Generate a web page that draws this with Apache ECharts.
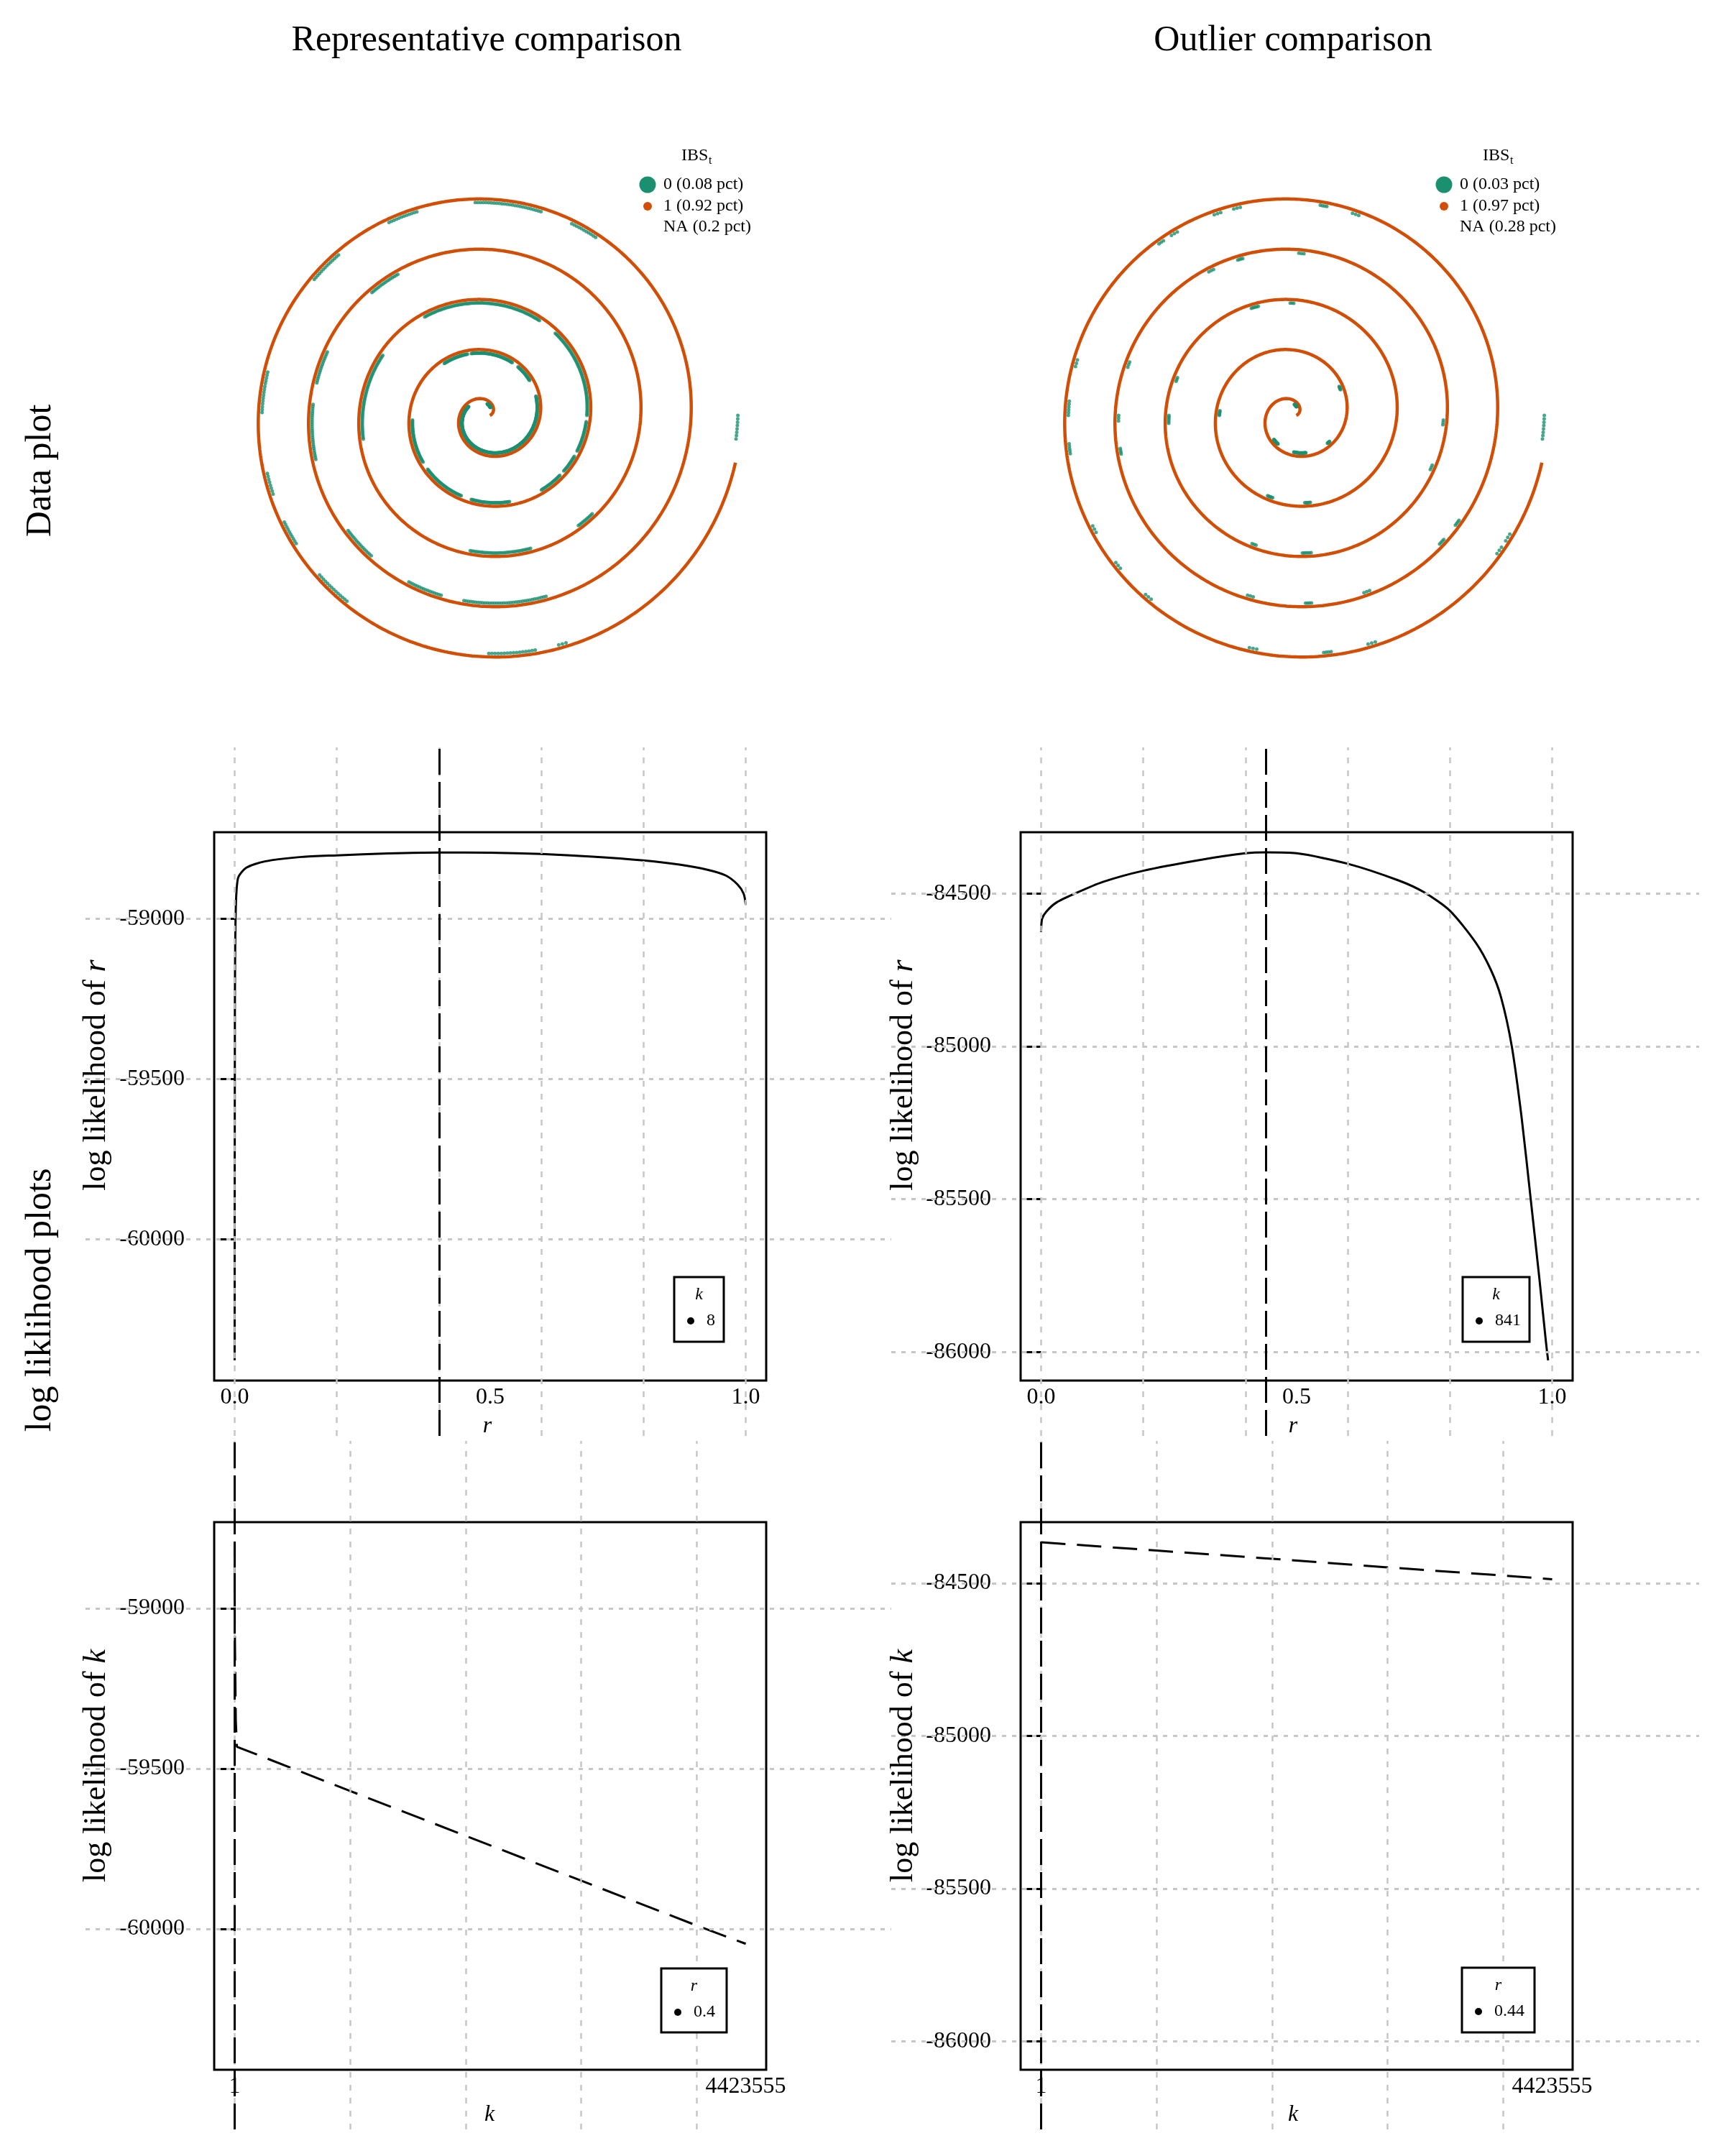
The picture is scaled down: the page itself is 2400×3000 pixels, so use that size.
<!DOCTYPE html>
<html><head><meta charset="utf-8">
<script src="https://cdn.jsdelivr.net/npm/echarts@6/dist/echarts.min.js"></script>
<style>html,body{margin:0;padding:0;background:#fff}#c{width:2400px;height:3000px}</style>
</head><body><div id="c"></div>
<script>
// ------------------------- DATA -------------------------
const columnTitles = ['Representative comparison', 'Outlier comparison'];
const rowTitles = ['Data plot', 'log liklihood plots'];
const ibsTitle = 'IBS';
const ibsLevels = ['0', '1', 'NA'];
const ibsPctRep = ['0.08', '0.92', '0.2'];
const ibsPctOut = ['0.03', '0.97', '0.28'];
// spiral position is measured in turns (genome order along the spiral)
const ibs1ExtentRep = [0, 4.97];
const ibs1ExtentOut = [0, 4.97];
const ibs0RunsRep = [[0.19,0.25],[0.43,1.06],[1.11,1.16],[1.18,1.29],[1.30,1.36],[1.51,1.60],[1.617,1.70],[1.72,1.76],[1.762,1.79],[1.85,1.89],[1.90,1.93],[1.94,1.99],[2.0,2.14],[2.17,2.34],[2.417,2.53],[2.73,2.80],[2.86,2.88],[3.34,3.37],[3.44,3.47],[3.49,3.54],[3.61,3.64],[3.68,3.71],[3.73,3.80],[4.163,4.184],[4.209,4.259],[4.303,4.325],[4.369,4.394],[4.469,4.498],[4.541,4.556],[4.577,4.594],[4.621,4.647],[4.751,4.782],[4.798,4.803],[4.985,5.0]];
const ibs0RunsOut = [[0.2,0.24],[0.64,0.67],[0.75,0.8],[0.89,0.9],[1.08,1.09],[1.49,1.5],[1.7,1.71],[1.77,1.78],[2.25,2.255],[2.3,2.31],[2.45,2.455],[2.5,2.51],[2.7,2.705],[2.76,2.77],[2.94,2.945],[2.99,2.995],[3.24,3.245],[3.3,3.305],[3.33,3.335],[3.45,3.455],[3.5,3.505],[3.53,3.535],[3.71,3.715],[3.76,3.765],[3.81,3.815],[3.885,3.89],[3.905,3.91],[4.2,4.205],[4.225,4.23],[4.29,4.295],[4.305,4.31],[4.34,4.345],[4.352,4.356],[4.46,4.465],[4.49,4.5],[4.52,4.527],[4.58,4.585],[4.61,4.615],[4.64,4.645],[4.72,4.725],[4.77,4.775],[4.8,4.805],[4.905,4.91],[4.915,4.92],[4.985,5.0]];

const rRep   = [0, 0.0005, 0.002, 0.0065, 0.0225, 0.059, 0.131, 0.2, 0.3, 0.4, 0.5, 0.6, 0.7, 0.8, 0.87, 0.925, 0.961, 0.984, 0.996, 1.0];
const llRRep = [-60377, -59300, -58990, -58875, -58842, -58822, -58808, -58803, -58797, -58794, -58795, -58799, -58807, -58819, -58832, -58848, -58866, -58894, -58923, -58957];
const rOut   = [0, 0.002, 0.01, 0.03, 0.067, 0.12, 0.2, 0.31, 0.4, 0.44, 0.5, 0.6, 0.7, 0.75, 0.8, 0.85, 0.88, 0.9, 0.921, 0.94, 0.958, 0.975, 0.988, 0.992];
const llROut = [-84626, -84583, -84560, -84530, -84500, -84463, -84426, -84391, -84369, -84366, -84369, -84403, -84458, -84497, -84557, -84660, -84750, -84840, -85000, -85230, -85500, -85760, -85970, -86027];

const kMax = 4423555;
const kRep   = [1, 8, 100, 1000, 10000, 20000, 1000000, 2000000, 3000000, 4000000, 4423555];
const llKRep = [-58950, -58794, -58860, -59050, -59350, -59432, -59570, -59710, -59850, -59990, -60047];
const kOut   = [1, 841, 1000000, 2000000, 3000000, 4000000, 4423555];
const llKOut = [-84366, -84365, -84393, -84420, -84448, -84475, -84487];

const rHat = [0.4, 0.44];
const kHat = [8, 841];

const yRanges = [[-60440, -58731], [-86093, -84300]];
const yTickVals = [[-60000, -59500, -59000], [-86000, -85500, -85000, -84500]];
const rGridVals = [0, 0.2, 0.4, 0.6, 0.8, 1.0];
const rLabelVals = [0, 0.5, 1.0];
const kGridVals = [0, 1000000, 2000000, 3000000, 4000000];
const kLabelVals = [1, 4423555];

// ------------------------- LAYOUT -------------------------
const FONT = 'Liberation Serif';
const GREEN = '#1A9070';
const ORANGE = '#D24E05';
const colBoxX = [[298, 1066], [1420, 2188]];
const colCellX = [[119, 1240], [1240, 2364]];
const rowBoxY = [[1158, 1921], [2118, 2880]];
const rowCellY = [[1040, 1998], [2005, 2963]];
const spiralCenters = [[678, 578], [1800, 578]];

const opt = {animation: false, backgroundColor: '#fff', grid: [], xAxis: [], yAxis: [],
  polar: [], angleAxis: [], radiusAxis: [], series: [], graphic: []};

// ---- spirals ----
function trace(t0, t1, off) {
  const pts = []; const n = Math.max(1, Math.round((t1 - t0) / 0.002));
  for (let i = 0; i <= n; i++) { const t = t0 + (t1 - t0) * i / n; pts.push([t + off, (((t % 1) + 1) % 1) * 360]); }
  return pts;
}
[[ibs1ExtentRep, ibs0RunsRep], [ibs1ExtentOut, ibs0RunsOut]].forEach(([ext, runs], c) => {
  opt.polar.push({center: spiralCenters[c], radius: 385});
  opt.angleAxis.push({polarIndex: c, type: 'value', min: 0, max: 360, startAngle: 0, clockwise: false, show: false});
  opt.radiusAxis.push({polarIndex: c, type: 'value', min: -0.05, max: 5.45, show: false});
  opt.series.push({type: 'line', coordinateSystem: 'polar', polarIndex: c, data: trace(ext[0], ext[1], 0),
    symbol: 'none', showSymbol: false, lineStyle: {color: ORANGE, width: 4.5}, z: 2, silent: true});
  let g = []; runs.forEach(r => { g = g.concat(trace(r[0], r[1], -0.07)); });
  opt.series.push({type: 'scatter', coordinateSystem: 'polar', polarIndex: c, data: g, symbolSize: 5,
    itemStyle: {color: GREEN}, z: 3, silent: true});
});

// ---- likelihood panels ----
const rowsDef = [
  {xs: [rRep, rOut], ys: [llRRep, llROut], xr: [-0.04, 1.04], grid: rGridVals, labs: rLabelVals,
   fmt: v => v.toFixed(1), hat: rHat, lineType: 'solid', smooth: 0.25},
  {xs: [kRep, kOut], ys: [llKRep, llKOut], xr: [1 - 0.04 * (kMax - 1), kMax + 0.04 * (kMax - 1)], grid: kGridVals, labs: kLabelVals,
   fmt: v => String(v), hat: kHat, lineType: [34, 16], smooth: false}
];
rowsDef.forEach((R, ri) => {
  for (let c = 0; c < 2; c++) {
    const [bx0, bx1] = colBoxX[c], [by0, by1] = rowBoxY[ri];
    const [cx0, cx1] = colCellX[c], [cy0, cy1] = rowCellY[ri];
    const [xmin, xmax] = R.xr, [ymin, ymax] = yRanges[c];
    const ppx = (bx1 - bx0) / (xmax - xmin), ppy = (by1 - by0) / (ymax - ymin);
    const gi = opt.grid.length;
    opt.grid.push({left: bx0, top: by0, width: bx1 - bx0, height: by1 - by0, show: true,
      borderColor: '#000', borderWidth: 3, backgroundColor: 'rgba(0,0,0,0)', containLabel: false, outerBoundsMode: 'none', z: 3});
    opt.xAxis.push({gridIndex: gi, type: 'value', min: xmin, max: xmax, axisLine: {show: false}, axisTick: {show: false},
      splitLine: {show: false}, axisLabel: {customValues: R.labs, formatter: R.fmt, fontSize: 32, fontFamily: FONT, color: '#000', margin: 8}});
    opt.yAxis.push({gridIndex: gi, type: 'value', min: ymin, max: ymax, axisLine: {show: false},
      axisTick: {show: true, customValues: yTickVals[c], length: 20, lineStyle: {color: '#000', width: 3}},
      splitLine: {show: false}, axisLabel: {customValues: yTickVals[c], formatter: v => String(v), fontSize: 32, fontFamily: FONT, color: '#000', margin: 41}});
    const go = opt.grid.length;
    opt.grid.push({left: cx0, top: cy0, width: cx1 - cx0, height: cy1 - cy0, show: false, containLabel: false, outerBoundsMode: 'none'});
    opt.xAxis.push({gridIndex: go, type: 'value', min: xmin - (bx0 - cx0) / ppx, max: xmax + (cx1 - bx1) / ppx, show: false});
    opt.yAxis.push({gridIndex: go, type: 'value', min: ymin - (cy1 - by1) / ppy, max: ymax + (by0 - cy0) / ppy, show: false});
    const gl = [];
    R.grid.forEach(v => gl.push({xAxis: v, lineStyle: {color: '#c6c6c6', width: 2.5, type: [8, 10]}}));
    yTickVals[c].forEach(v => gl.push({yAxis: v, lineStyle: {color: '#c6c6c6', width: 3, type: [6, 8]}}));
    opt.series.push({type: 'line', xAxisIndex: go, yAxisIndex: go, data: [], silent: true, z: 1,
      markLine: {silent: true, symbol: ['none', 'none'], label: {show: false}, animation: false, data: gl}});
    opt.series.push({type: 'line', xAxisIndex: gi, yAxisIndex: gi, data: R.xs[c].map((v, i) => [v, R.ys[c][i]]),
      symbol: 'none', showSymbol: false, silent: true, smooth: R.smooth,
      lineStyle: {color: '#000', width: 3, type: R.lineType}, z: 4});
    opt.series.push({type: 'line', xAxisIndex: go, yAxisIndex: go, data: [], silent: true, z: 5,
      markLine: {silent: true, symbol: ['none', 'none'], label: {show: false}, animation: false,
        data: [{xAxis: R.hat[c], lineStyle: {color: '#000', width: 3, type: [36, 10]}}]}});
  }
});

// ---- texts ----
const G = opt.graphic;
function txt(x, y, text, size, opts) {
  const o = Object.assign({type: 'text', x: x, y: y, z: 100, silent: true,
    style: Object.assign({text: text, fontSize: size, fontFamily: FONT, fill: '#000', align: 'center', verticalAlign: 'middle',
      textAlign: 'center', textVerticalAlign: 'middle'}, (opts && opts.style) || {})}, (opts && opts.el) || {});
  G.push(o);
}
txt(677, 57, columnTitles[0], 50);
txt(1799, 57, columnTitles[1], 50);
txt(57, 655, rowTitles[0], 50, {el: {rotation: Math.PI / 2}});
txt(57, 1809, rowTitles[1], 50, {el: {rotation: Math.PI / 2}});
const italic = {i: {fontStyle: 'italic', fontFamily: FONT, fontSize: 44}};
[[134, 1496, 'r'], [134, 2457, 'k'], [1257, 1496, 'r'], [1257, 2457, 'k']].forEach(([x, y, v]) => {
  txt(x, y, 'log likelihood of {i|' + v + '}', 44, {el: {rotation: Math.PI / 2}, style: {rich: italic}});
});
[[678, 1985, 'r'], [1799, 1985, 'r'], [681, 2943, 'k'], [1799, 2943, 'k']].forEach(([x, y, v]) => {
  txt(x, y, v, 32, {style: {fontStyle: 'italic'}});
});

// ---- IBS legends ----
[[948, 901, 923, ibsPctRep], [2063, 2009, 2031, ibsPctOut]].forEach(([tx, dx, lx, pct]) => {
  txt(tx, 217, ibsTitle, 24, {style: {align: 'left', textAlign: 'left'}});
  txt(tx + 38, 224, 't', 16, {style: {align: 'left', textAlign: 'left'}});
  const ys = [257, 287, 316];
  G.push({type: 'circle', shape: {cx: dx, cy: ys[0], r: 11.5}, style: {fill: GREEN}, z: 100, silent: true});
  G.push({type: 'circle', shape: {cx: dx, cy: ys[1], r: 6}, style: {fill: ORANGE}, z: 100, silent: true});
  ibsLevels.forEach((lv, i) => txt(lx, ys[i], lv + ' (' + pct[i] + ' pct)', 24, {style: {align: 'left', textAlign: 'left'}}));
});

// ---- small in-panel legends ----
function miniLegend(x0, y0, x1, y1, title, val) {
  G.push({type: 'rect', shape: {x: x0, y: y0, width: x1 - x0, height: y1 - y0}, style: {fill: '#fff', stroke: '#000', lineWidth: 3}, z: 100, silent: true});
  txt((x0 + x1) / 2, y0 + 25, title, 24, {style: {fontStyle: 'italic'}});
  G.push({type: 'circle', shape: {cx: x0 + 23, cy: y0 + 61, r: 5}, style: {fill: '#000'}, z: 101, silent: true});
  txt(x0 + 45, y0 + 61, String(val), 24, {style: {align: 'left', textAlign: 'left'}});
}
miniLegend(938, 1777, 1007, 1867, 'k', kHat[0]);
miniLegend(2035, 1777, 2128, 1867, 'k', kHat[1]);
miniLegend(920, 2739, 1011, 2828, 'r', rHat[0]);
miniLegend(2034, 2738, 2135, 2828, 'r', rHat[1]);

const chart = echarts.init(document.getElementById('c'), null, {renderer: 'canvas'});
chart.setOption(opt);
</script></body></html>
